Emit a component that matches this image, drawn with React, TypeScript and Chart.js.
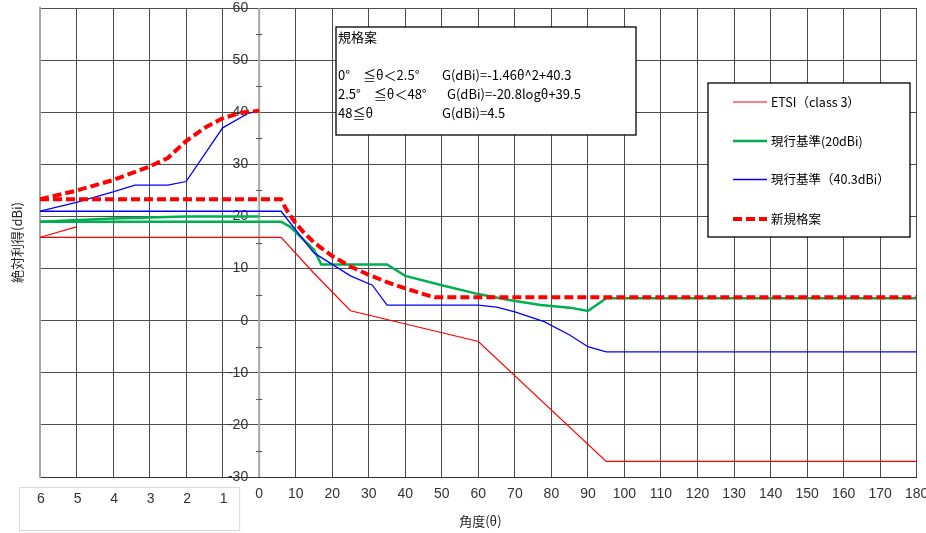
import React, { useEffect, useRef } from 'react';
import { Chart, registerables } from 'chart.js';

Chart.register(...registerables);

// ---- data ----
// x axis: -60..0 is the zoomed view of 6°..0° (x = -10·θ); 0..180 is the real angle
const zoomTickLabels = ['6', '5', '4', '3', '2', '1'];
const zoomTickAngles = [-60, -50, -40, -30, -20, -10];

const etsiZoomX = [-60, -50];
const etsiZoomY = [16, 18];
const etsiMainX = [-60, 6, 15, 25, 60, 95, 180];
const etsiMainY = [16, 16, 9.1, 1.9, -4, -27, -27];

const std20ZoomX = [-60, -40, -20, 0];
const std20ZoomY = [19.0, 19.6, 20.0, 20.0];
const std20MainX = [-60, 6, 8.5, 15, 17, 35, 40, 50, 60, 68, 77, 85, 90, 95, 180];
const std20MainY = [19, 19, 18, 13.6, 10.8, 10.8, 8.6, 6.8, 5.1, 4.0, 3.0, 2.5, 1.85, 4.3, 4.3];

const std40ZoomX = [-60, -50, -40, -34, -25, -20, -10, -3, 0];
const std40ZoomY = [21, 22.7, 24.7, 26.0, 26.0, 26.7, 37.0, 39.8, 40.3];
const std40MainX = [-60, 6, 10, 15, 25, 31, 35, 60, 65, 70, 78, 85, 90, 95, 180];
const std40MainY = [21, 21, 17.4, 13.0, 8.6, 6.8, 3.0, 3.0, 2.6, 1.7, -0.2, -2.75, -5.0, -6.0, -6.0];

const proposalZoomX = [-60, -50, -40, -30, -25, -20, -15, -10, -5, 0];
const proposalZoomY = [23.3, 24.96, 26.98, 29.58, 31.22, 34.46, 37.0, 38.84, 39.9, 40.3];
const proposalMainX = [-60, 6, 7, 8, 10, 12, 15, 20, 25, 30, 35, 40, 45, 48, 180];
const proposalMainY = [23.3, 23.3, 21.9, 20.7, 18.7, 17.1, 15.0, 12.4, 10.4, 8.8, 7.4, 6.2, 5.1, 4.5, 4.5];

const legendLabels = ['ETSI（class 3）', '現行基準(20dBi)', '現行基準（40.3dBi）', '新規格案'];
const noteTitle = '規格案';
const noteConditions = ['0°　≦θ＜2.5°', '2.5°　≦θ＜48°', '48≦θ'];
const noteFormulas = ['G(dBi)=-1.46θ^2+40.3', 'G(dBi)=-20.8logθ+39.5', 'G(dBi)=4.5'];
const xTitle = '角度(θ)';
const yTitle = '絶対利得(dBi)';

const RED = '#ff0000';
const GREEN = '#00b050';
const BLUE = '#0000ff';

const NUM_FONT = '14px "Liberation Sans Narrow", "Liberation Sans", sans-serif';
const JP_FONT = '"Noto Sans CJK JP", sans-serif';

const pts = (xs: number[], ys: number[]) => xs.map((x, i) => ({ x, y: ys[i] }));

const legendStyles = [
  { color: RED, width: 1.2, dash: [] as number[] },
  { color: GREEN, width: 2.5, dash: [] as number[] },
  { color: BLUE, width: 1.3, dash: [] as number[] },
  { color: RED, width: 4, dash: [9, 4] },
];

const overlay = {
  id: 'overlay',
  beforeDatasetsDraw(chart: any) {
    const { ctx, scales } = chart;
    const xs = scales.x;
    const ys = scales.y;
    const x0 = xs.getPixelForValue(0);
    ctx.save();
    // central vertical axis
    ctx.strokeStyle = '#a6a6a6';
    ctx.lineWidth = 2;
    ctx.beginPath();
    ctx.moveTo(x0, ys.top);
    ctx.lineTo(x0, ys.bottom);
    ctx.stroke();
    // minor ticks
    ctx.strokeStyle = '#555';
    ctx.lineWidth = 1;
    const yt = ys.ticks;
    for (let i = 0; i < yt.length - 1; i++) {
      const mid = (yt[i].value + yt[i + 1].value) / 2;
      const py = Math.round(ys.getPixelForValue(mid)) + 0.5;
      ctx.beginPath();
      ctx.moveTo(x0 - 3, py);
      ctx.lineTo(x0 + 3, py);
      ctx.stroke();
    }
    // y labels
    ctx.fillStyle = '#333';
    ctx.font = NUM_FONT;
    ctx.textAlign = 'right';
    ctx.textBaseline = 'middle';
    yt.forEach((t: any) => {
      ctx.fillText(String(t.value), x0 - 11, ys.getPixelForValue(t.value));
    });
    // x labels (real angles)
    ctx.textAlign = 'center';
    xs.ticks.forEach((t: any) => {
      if (t.value >= 0) ctx.fillText(String(t.value), xs.getPixelForValue(t.value), ys.bottom + 17);
    });
    // zoom label box
    const bx1 = xs.left - 21;
    const bx2 = x0 - 20;
    const by1 = ys.bottom + 10;
    const by2 = ys.bottom + 53;
    ctx.strokeStyle = '#d9d9d9';
    ctx.strokeRect(bx1 + 0.5, by1 + 0.5, bx2 - bx1, by2 - by1);
    ctx.fillStyle = '#333';
    zoomTickLabels.forEach((lab, i) => {
      ctx.fillText(lab, xs.getPixelForValue(zoomTickAngles[i]) + 1, ys.bottom + 22);
    });
    // axis titles
    ctx.font = '13px ' + JP_FONT;
    ctx.fillStyle = '#222';
    ctx.fillText(xTitle, (xs.left + xs.right) / 2 + 2, ys.bottom + 44);
    ctx.save();
    ctx.translate(17, (ys.top + ys.bottom) / 2 + 0);
    ctx.rotate(-Math.PI / 2);
    ctx.fillText(yTitle, 0, 0);
    ctx.restore();
    ctx.restore();
  },
  afterDraw(chart: any) {
    const { ctx } = chart;
    ctx.save();
    // note box
    ctx.fillStyle = '#fff';
    ctx.fillRect(336, 27, 300, 108);
    ctx.strokeStyle = '#000';
    ctx.lineWidth = 1.3;
    ctx.strokeRect(336, 27, 300, 108);
    ctx.fillStyle = '#000';
    ctx.textAlign = 'left';
    ctx.textBaseline = 'middle';
    ctx.font = '13px ' + JP_FONT;
    ctx.fillText(noteTitle, 338, 37);
    const rowY = [75, 94, 113];
    const fx = [442, 447, 442];
    noteConditions.forEach((c, i) => {
      ctx.fillText(c, 338, rowY[i]);
      ctx.fillText(noteFormulas[i], fx[i], rowY[i]);
    });
    // legend box
    ctx.fillStyle = '#fff';
    ctx.fillRect(708, 83, 202, 154);
    ctx.strokeStyle = '#000';
    ctx.lineWidth = 1.3;
    ctx.strokeRect(708, 83, 202, 154);
    const ly = [102, 141, 179.5, 219];
    legendLabels.forEach((lab, i) => {
      const st = legendStyles[i];
      ctx.strokeStyle = st.color;
      ctx.lineWidth = st.width;
      ctx.setLineDash(st.dash);
      ctx.beginPath();
      ctx.moveTo(733, ly[i]);
      ctx.lineTo(767, ly[i]);
      ctx.stroke();
      ctx.setLineDash([]);
      ctx.fillStyle = '#000';
      ctx.font = '12.5px ' + JP_FONT;
      ctx.fillText(lab, 771, ly[i]);
    });
    ctx.restore();
  },
};

export default function App() {
  const ref = useRef<HTMLCanvasElement | null>(null);
  useEffect(() => {
    if (!ref.current) return;
    const line = (data: any, color: string, width: number, dash: number[] = []) => ({
      data,
      borderColor: color,
      backgroundColor: color,
      borderWidth: width,
      borderDash: dash,
      borderCapStyle: 'butt',
      showLine: true,
      pointRadius: 0,
      fill: false,
      tension: 0,
    });
    const chart = new Chart(ref.current, {
      type: 'scatter',
      data: {
        datasets: [
          line(pts(proposalZoomX, proposalZoomY), RED, 4, [9, 4]),
          line(pts(proposalMainX, proposalMainY), RED, 4, [9, 4]),
          line(pts(std40ZoomX, std40ZoomY), BLUE, 1.3),
          line(pts(std40MainX, std40MainY), BLUE, 1.3),
          line(pts(std20ZoomX, std20ZoomY), GREEN, 2.5),
          line(pts(std20MainX, std20MainY), GREEN, 2.5),
          line(pts(etsiZoomX, etsiZoomY), RED, 1.2),
          line(pts(etsiMainX, etsiMainY), RED, 1.2),
        ] as any,
      },
      options: {
        animation: false,
        responsive: false,
        devicePixelRatio: 1,
        layout: { padding: { left: 40, top: 8, right: 9.3, bottom: 56 } },
        plugins: { legend: { display: false }, tooltip: { enabled: false } },
        scales: {
          x: {
            type: 'linear',
            min: -60,
            max: 180,
            ticks: { stepSize: 10, display: false },
            grid: { color: '#4d4d4d', lineWidth: 1, drawTicks: false },
            border: { color: '#333', width: 1 },
          },
          y: {
            type: 'linear',
            min: -30,
            max: 60,
            ticks: { stepSize: 10, display: false },
            grid: { color: '#4d4d4d', lineWidth: 1, drawTicks: false },
            border: { color: '#a6a6a6', width: 2 },
          },
        },
      } as any,
      plugins: [overlay],
    });
    return () => chart.destroy();
  }, []);
  return (
    <div style={{ position: 'absolute', left: 0, top: 0, width: 926, height: 533, background: '#fff' }}>
      <canvas ref={ref} width={926} height={533} />
    </div>
  );
}
